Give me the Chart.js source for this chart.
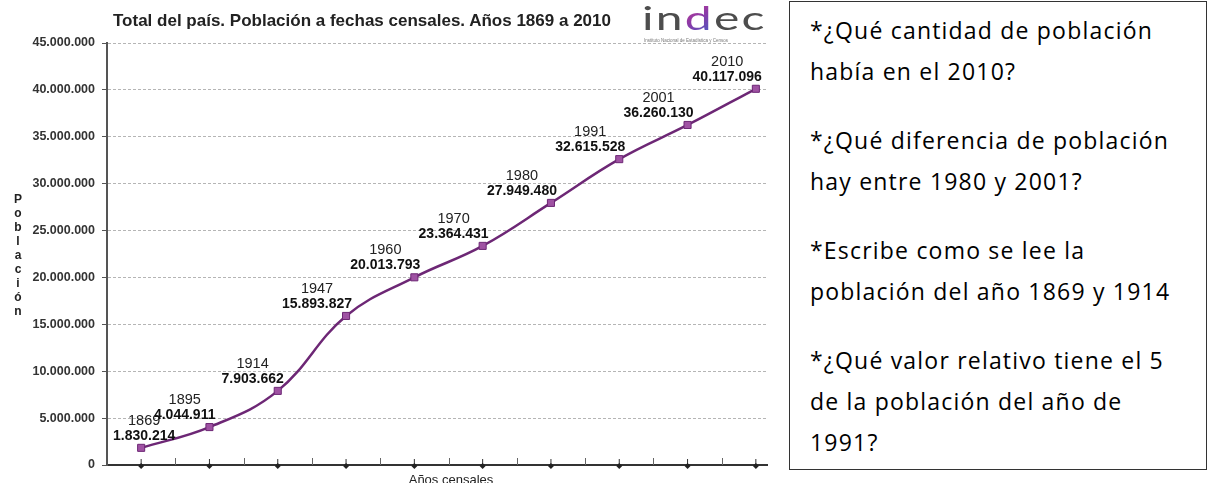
<!DOCTYPE html>
<html lang="es">
<head>
  <meta charset="UTF-8">
  <title>Población a fechas censales</title>
  <script src="https://cdn.jsdelivr.net/npm/chart.js@4.4.0/dist/chart.umd.min.js"></script>
  <style>
    body {
      margin: 0;
      width: 1208px;
      height: 483px;
      overflow: hidden;
      background: #fff;
      font-family: "Liberation Sans", Arial, sans-serif;
    }
    .chart-wrap {
      position: absolute;
      left: 0;
      top: 0;
      width: 768px;
      height: 483px;
      overflow: hidden;
    }
    .chart-wrap canvas {
      position: absolute;
      left: 0;
      top: 0;
    }
    .title {
      position: absolute;
      left: 113px;
      top: 11px;
      font-size: 17px;
      font-weight: bold;
      color: #222;
      white-space: nowrap;
    }
    .logo {
      position: absolute;
      left: 642px;
      top: 0px;
      width: 126px;
    }
    .logo .word {
      font-family: Lato, "Open Sans", sans-serif;
      font-weight: 400;
      font-size: 32px;
      letter-spacing: 1.5px;
      color: #4d4d4d;
      transform: scaleX(1.5);
      transform-origin: left top;
      line-height: 36px;
      white-space: nowrap;
    }
    .logo .word span {
      background: linear-gradient(135deg, #d43a8a 0%, #8a3aa8 50%, #3a62c8 100%);
      -webkit-background-clip: text;
      background-clip: text;
      color: transparent;
    }
    .logo .sub {
      position: absolute;
      left: 2px;
      top: 38px;
      font-size: 4.5px;
      color: #777;
      white-space: nowrap;
    }
    .ytitle {
      position: absolute;
      left: 11px;
      top: 192px;
      width: 14px;
      text-align: center;
      font-size: 12px;
      font-weight: bold;
      line-height: 14px;
      color: #222;
    }
    .xtitle {
      position: absolute;
      left: 351px;
      width: 200px;
      top: 472px;
      text-align: center;
      font-size: 13px;
      color: #222;
    }
    .questions {
      position: absolute;
      left: 789px;
      top: 1px;
      width: 418px;
      height: 469px;
      border: 1px solid #333;
      box-sizing: border-box;
      padding: 8px 0 0 20px;
      font-family: "Open Sans", "Noto Sans", sans-serif;
      font-size: 23px;
      letter-spacing: 1.2px;
      color: #000;
      white-space: nowrap;
    }
    .questions p {
      margin: 0 0 28px 0;
      line-height: 41px;
    }
  </style>
</head>
<body>
  <div class="chart-wrap">
    <canvas id="chart" width="796" height="483"></canvas>
    <div class="title">Total del país. Población a fechas censales. Años 1869 a 2010</div>
    <div class="logo">
      <div class="word">in<span>d</span>ec</div>
      <div class="sub">Instituto Nacional de Estadística y Censos</div>
    </div>
    <div class="ytitle">P<br>o<br>b<br>l<br>a<br>c<br>i<br>ó<br>n</div>
    <div class="xtitle">Años censales</div>
  </div>

  <div class="questions">
    <p>*¿Qué cantidad de población<br>había en el 2010?</p>
    <p>*¿Qué diferencia de población<br>hay entre 1980 y 2001?</p>
    <p>*Escribe como se lee la<br>población del año 1869 y 1914</p>
    <p>*¿Qué valor relativo tiene el 5<br>de la población del año de<br>1991?</p>
  </div>

  <script>
    const years = ['1869', '1895', '1914', '1947', '1960', '1970', '1980', '1991', '2001', '2010'];
    const population = [1830214, 4044911, 7903662, 15893827, 20013793, 23364431, 27949480, 32615528, 36260130, 40117096];
    const yMin = 0;
    const yMax = 45000000;
    const yStep = 5000000;

    const fontFamily = '"Liberation Sans", Arial, sans-serif';

    function formatDots(x) {
      return String(x).replace(/\B(?=(\d{3})+(?!\d))/g, '.');
    }

    // year + value labels above each point, and the axis tick marks
    const censusLabels = {
      id: 'censusLabels',
      afterDraw(chart) {
        const ctx = chart.ctx;
        const area = chart.chartArea;
        const xs = chart.scales.x;
        const meta = chart.getDatasetMeta(0);
        ctx.save();

        // x axis marks
        const step = (xs.right - xs.left) / years.length;
        ctx.strokeStyle = '#666';
        ctx.lineWidth = 1;
        for (let i = 1; i <= years.length; i++) {
          const bx = Math.round(xs.left + i * step) + 0.5;
          ctx.beginPath();
          ctx.moveTo(bx, area.bottom - 7);
          ctx.lineTo(bx, area.bottom);
          ctx.stroke();
        }
        ctx.fillStyle = '#222';
        ctx.strokeStyle = '#333';
        for (let i = 0; i < years.length; i++) {
          const cx = xs.getPixelForValue(i);
          ctx.beginPath();
          ctx.moveTo(cx, area.bottom - 6);
          ctx.lineTo(cx, area.bottom);
          ctx.stroke();
          ctx.beginPath();
          ctx.moveTo(cx, area.bottom - 2);
          ctx.lineTo(cx + 3, area.bottom + 1);
          ctx.lineTo(cx, area.bottom + 4);
          ctx.lineTo(cx - 3, area.bottom + 1);
          ctx.closePath();
          ctx.fill();
        }

        // labels
        ctx.textAlign = 'center';
        ctx.textBaseline = 'middle';
        meta.data.forEach((pt, i) => {
          const valText = formatDots(population[i]);
          ctx.font = 'bold 14px ' + fontFamily;
          const w = ctx.measureText(valText).width;
          let right = pt.x + 6;
          if (right - w < area.left + 6) right = area.left + 6 + w;
          const cx = right - w / 2;
          ctx.fillStyle = '#111';
          ctx.fillText(valText, cx, pt.y - 12);
          ctx.font = '14.5px ' + fontFamily;
          ctx.fillStyle = '#222';
          ctx.fillText(years[i], cx, pt.y - 27);
        });
        ctx.restore();
      }
    };

    new Chart(document.getElementById('chart').getContext('2d'), {
      type: 'line',
      data: {
        labels: years,
        datasets: [{
          data: population,
          borderColor: '#6d2775',
          borderWidth: 2.5,
          tension: 0.4,
          fill: false,
          pointStyle: 'rect',
          pointRadius: 5,
          pointBackgroundColor: '#9f52a3',
          pointBorderColor: '#6d2775',
          pointBorderWidth: 1
        }]
      },
      options: {
        responsive: false,
        animation: false,
        layout: { padding: { top: 43, left: 0, right: 0, bottom: 0 } },
        plugins: {
          legend: { display: false },
          tooltip: { enabled: false }
        },
        scales: {
          x: {
            offset: true,
            grid: { display: false },
            border: { display: true, color: '#333', width: 2 },
            ticks: { display: false },
            afterFit(s) { s.height = 18; }
          },
          y: {
            min: yMin,
            max: yMax,
            ticks: {
              stepSize: yStep,
              callback: v => formatDots(v),
              color: '#333',
              padding: 7,
              font: { family: fontFamily, size: 12.5, weight: 'bold' }
            },
            grid: { color: '#b5b5b5', tickColor: '#555', tickLength: 5, lineWidth: 1 },
            border: { color: '#555', width: 2, dash: [3, 2] },
            afterFit(s) { s.width = 107; }
          }
        }
      },
      plugins: [censusLabels]
    });
  </script>
</body>
</html>
